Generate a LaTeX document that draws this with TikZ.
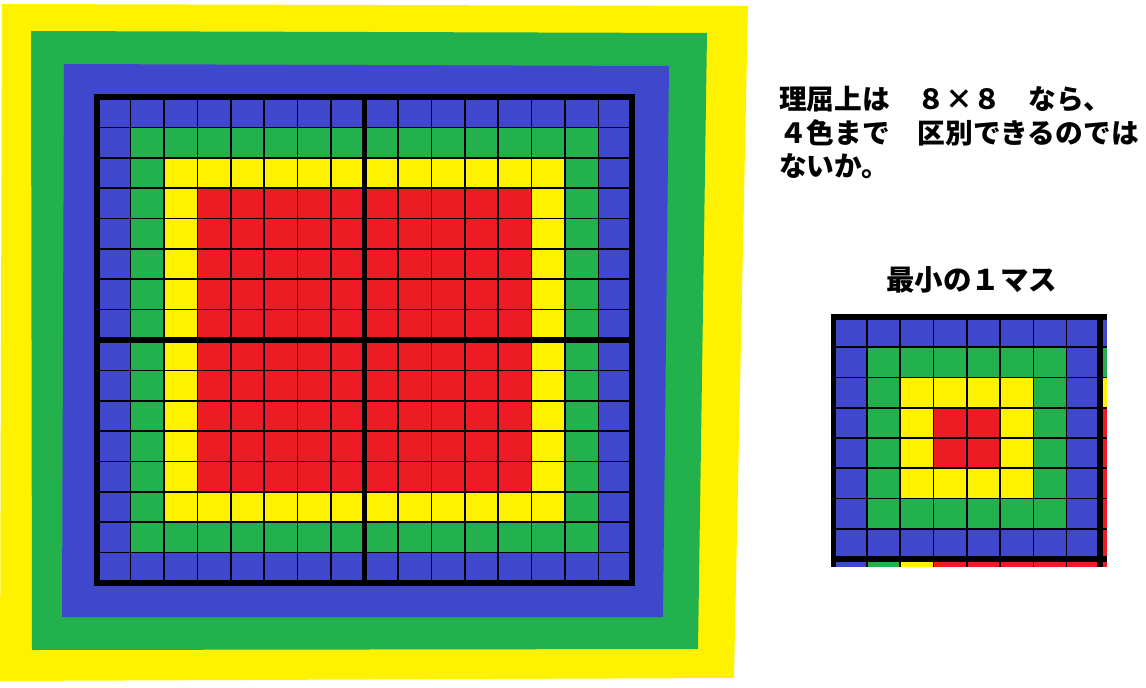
\documentclass[tikz,border=0pt]{standalone}
\usepackage{fontspec}
\newfontfamily\cjk{Noto Sans CJK JP}
\definecolor{pblue}{HTML}{3F48CC}
\definecolor{pgreen}{HTML}{22B14C}
\definecolor{pyellow}{HTML}{FFF200}
\definecolor{pred}{HTML}{ED1C24}
\tikzset{
  thinln/.style={line width=1.6pt,black},
  thickln/.style={line width=5.5pt,black},
  txt/.style={anchor=base west,inner sep=0pt,font=\cjk\bfseries\fontsize{27.7}{27.7}\selectfont},
  ttltxt/.style={anchor=base west,inner sep=0pt,font=\cjk\bfseries\fontsize{28.5}{28.5}\selectfont}
}
\begin{document}
\begin{tikzpicture}[x=1pt,y=-1pt]
\useasboundingbox (0,0) rectangle (1146,688);
\fill[white] (0,0) rectangle (1146,688);
% outer frames
\fill[pyellow] (2,4) -- (748,6) -- (734,678) -- (0,681) -- cycle;
\fill[pgreen] (31,31) -- (707,33) -- (698,649) -- (32,650) -- cycle;
\fill[pblue] (64,64) -- (669,66) -- (663,617) -- (62,617) -- cycle;
% big grid fills
\fill[pblue] (97,97) rectangle (632,583);
\fill[pgreen] (130.4375,127.375) rectangle (598.5625,552.625);
\fill[pyellow] (163.875,157.75) rectangle (565.125,522.25);
\fill[pred] (197.3125,188.125) rectangle (531.6875,491.875);
\foreach \i in {1,...,15} {
  \draw[thinln] ({97+\i*33.4375},97) -- ({97+\i*33.4375},583);
  \draw[thinln] (97,{97+\i*30.375}) -- (632,{97+\i*30.375});
}
\draw[thickln,line cap=rect] (97,97) rectangle (632,583);
\draw[thickln] (364.5,97) -- (364.5,583);
\draw[thickln] (97,340) -- (632,340);
% small grid fills
\fill[pblue] (833.5,317) rectangle (1100,559);
\fill[pgreen] (866.8125,347.25) rectangle (1066.6875,528.75);
\fill[pyellow] (900.125,377.5) rectangle (1033.375,498.5);
\fill[pred] (933.4375,407.75) rectangle (1000.0625,468.25);
% cropped neighbour strips
\fill[pblue] (1100,317) rectangle (1107,347.25);
\fill[pgreen] (1100,347.25) rectangle (1107,377.5);
\fill[pyellow] (1100,377.5) rectangle (1107,407.75);
\fill[pred] (1100,407.75) rectangle (1107,567);
\fill[pblue] (833.5,559) rectangle (866.8125,567);
\fill[pgreen] (866.8125,559) rectangle (900.125,567);
\fill[pyellow] (900.125,559) rectangle (933.4375,567);
\fill[pred] (933.4375,559) rectangle (1100,567);
\foreach \i in {1,...,7} {
  \draw[thinln] ({833.5+\i*33.3125},317) -- ({833.5+\i*33.3125},567);
  \draw[thinln] (833.5,{317+\i*30.25}) -- (1107,{317+\i*30.25});
}
\draw[thickln] (833.5,314.25) -- (833.5,567);
\draw[thickln] (1100,314.25) -- (1100,567);
\draw[thickln] (830.75,317) -- (1107,317);
\draw[thickln] (830.75,559) -- (1107,559);
% texts
\node[txt] (l1) at (779,109) {理屈上は　８×８　なら、};
\node[txt] (l2) at (779,143) {４色まで　区別できるのでは};
\node[txt] (l3) at (779,176) {ないか。};
\node[ttltxt] (ttl) at (886,290) {最小の１マス};
\end{tikzpicture}
\end{document}
